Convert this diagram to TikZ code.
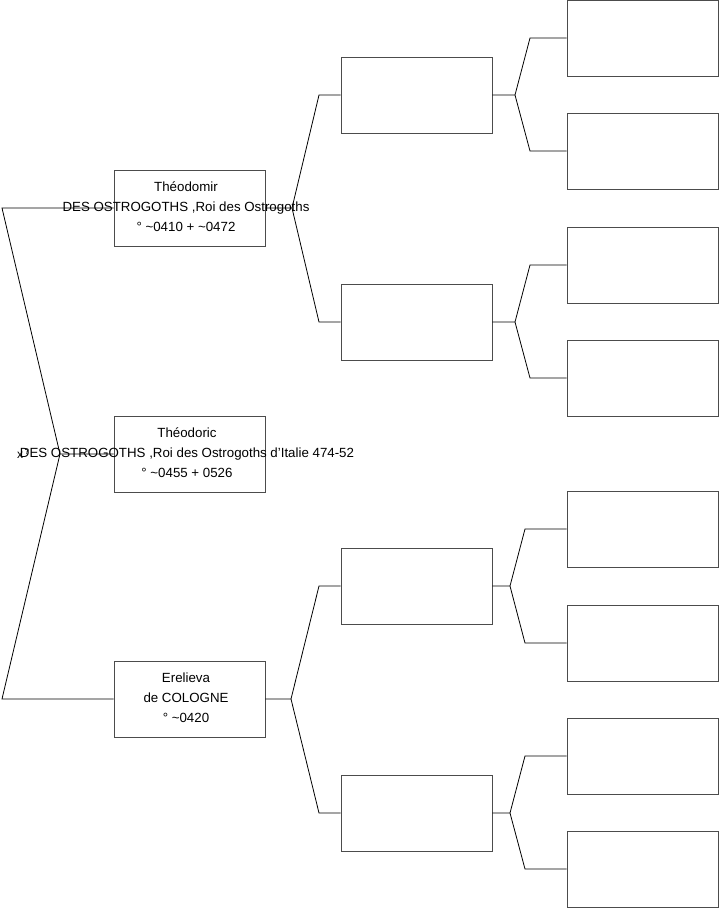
\documentclass[tikz,border=0pt]{standalone}
\usepackage{fontspec}
\setmainfont{Liberation Sans}
\newcommand{\tld}{{\char"7E}}
\newcommand{\apos}{{\char"27}}
\begin{document}
\begin{tikzpicture}[x=1pt,y=-1pt,
  pbox/.style={draw=black!70,line width=0.9pt,minimum width=151pt,minimum height=76pt,inner sep=0pt,fill=none},
  ptext/.style={align=center,font=\fontsize{13.3}{20}\selectfont,inner sep=0pt},
  conn/.style={draw=black,line width=0.8pt}]
\useasboundingbox (0,0) rectangle (719,908);
% level 1
\node[pbox] (b1) at (189.5,208) {};
\node[pbox] (b0) at (189.5,454) {};
\node[pbox] (b2) at (189.5,699) {};
\node[ptext] (t1) at (186,207) {Théodomir\\DES OSTROGOTHS ,Roi des Ostrogoths\\° \tld0410 + \tld0472};
\node[ptext] (t0) at (187,453) {Théodoric\\DES OSTROGOTHS ,Roi des Ostrogoths d\apos Italie 474-52\\° \tld0455 + 0526};
\node[ptext] (t2) at (186,698) {Erelieva\\de COLOGNE\\° \tld0420};
\node[ptext,font=\fontsize{12}{12}\selectfont,anchor=west] (gl) at (17,454) {x\kern1.5pt\raisebox{0.6ex}{\fontsize{8}{8}\selectfont ?}};
% level 2
\node[pbox] (c1) at (416.5,95) {};
\node[pbox] (c2) at (416.5,322) {};
\node[pbox] (c3) at (416.5,586) {};
\node[pbox] (c4) at (416.5,813) {};
% level 3
\foreach \i/\y in {1/38,2/151,3/265,4/378,5/529,6/643,7/756,8/869}
  \node[pbox] (d\i) at (642.5,\y) {};
% junction coordinates
\coordinate (j0) at (60,454);
\coordinate (k1) at (2,208);
\coordinate (k2) at (2,699);
\coordinate (j1) at (292,208);
\coordinate (j2) at (291,699);
\coordinate (j11) at (515,95);
\coordinate (j12) at (515,322);
\coordinate (j21) at (510,586);
\coordinate (j22) at (510,813);
% connectors
\draw[conn] (b0.west) -- (j0) -- (k1) -- (b1.west);
\draw[conn] (j0) -- (k2) -- (b2.west);
\draw[conn] (b1.east) -- (j1) -- (319,95) -- (c1.west);
\draw[conn] (j1) -- (319,322) -- (c2.west);
\draw[conn] (b2.east) -- (j2) -- (319,586) -- (c3.west);
\draw[conn] (j2) -- (319,813) -- (c4.west);
\draw[conn] (c1.east) -- (j11) -- (530,38) -- (d1.west);
\draw[conn] (j11) -- (530,151) -- (d2.west);
\draw[conn] (c2.east) -- (j12) -- (530,265) -- (d3.west);
\draw[conn] (j12) -- (530,378) -- (d4.west);
\draw[conn] (c3.east) -- (j21) -- (525,529) -- (d5.west);
\draw[conn] (j21) -- (525,643) -- (d6.west);
\draw[conn] (c4.east) -- (j22) -- (525,756) -- (d7.west);
\draw[conn] (j22) -- (525,869) -- (d8.west);
\end{tikzpicture}
\end{document}
